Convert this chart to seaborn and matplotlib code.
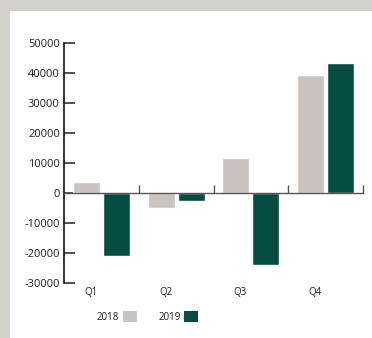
import matplotlib
matplotlib.use("Agg")
import matplotlib.pyplot as plt
from matplotlib.patches import Patch, Rectangle
from matplotlib.transforms import blended_transform_factory
import pandas as pd
import seaborn as sns

quarters = ["Q1", "Q2", "Q3", "Q4"]
years = ["2018", "2019"]
values_2018 = [3500, -5000, 11500, 39200]
values_2019 = [-21000, -2700, -24100, 43200]
y_ticks = [50000, 40000, 30000, 20000, 10000, 0, -10000, -20000, -30000]
y_tick_labels = ["50000", "40000", "30000", "20000", "10000", "0", "-10000", "-20000", "-30000"]

colors = {"2018": "#c9c4bf", "2019": "#054d40"}
text_color = "#222222"

df = pd.DataFrame({
    "quarter": quarters * 2,
    "year": ["2018"] * 4 + ["2019"] * 4,
    "value": values_2018 + values_2019,
})

sns.set_style("white")
plt.rcParams["font.family"] = ["Open Sans", "DejaVu Sans"]
plt.rcParams["axes.unicode_minus"] = False

W, H = 372, 338
fig = plt.figure(figsize=(W / 100, H / 100), dpi=100, facecolor="#d3d1ce")
# white card on the grey backdrop
fig.patches.append(Rectangle((10 / W, 0), 1, 1 - 11 / H, transform=fig.transFigure,
                             facecolor="white", edgecolor="none", zorder=-1))

ax = fig.add_axes([64 / W, (H - 282.7) / H, 299 / W, 240 / H])
ax.set_facecolor("none")
ax.set_zorder(2)

sns.barplot(data=df, x="quarter", y="value", hue="year", hue_order=years,
            palette=colors, width=0.8, gap=0.1, saturation=1, legend=False, ax=ax)

ax.set_xlim(-0.5, 3.5)
ax.set_ylim(-30000, 50000)
ax.set_xlabel("")
ax.set_ylabel("")

for side in ("top", "right"):
    ax.spines[side].set_visible(False)
ax.spines["left"].set_color("#111111")
ax.spines["left"].set_linewidth(1.2)
ax.spines["bottom"].set_position(("data", 0))
ax.spines["bottom"].set_color("#555555")
ax.spines["bottom"].set_linewidth(1.0)

ax.set_yticks(y_ticks)
ax.set_yticklabels(y_tick_labels)
ax.tick_params(axis="y", direction="in", length=8, width=1.1, color="#222222",
               pad=3, labelsize=8, labelcolor=text_color, left=True)

# group boundary ticks on the zero line
ax.set_xticks([0.5, 1.5, 2.5, 3.5])
ax.set_xticklabels([])
ax.tick_params(axis="x", direction="in", length=6, width=1.0, color="#555555", bottom=True)

trans = blended_transform_factory(ax.transData, ax.transAxes)
for i, q in enumerate(quarters):
    ax.text(i - 0.14, -0.042, q, transform=trans, ha="center", va="center",
            fontsize=7, color=text_color)

handles = [Patch(facecolor=colors[y], edgecolor="none") for y in years]
leg = fig.legend(handles, years, loc="center left", bbox_to_anchor=(97 / W, (H - 317) / H),
                 ncol=2, frameon=False, markerfirst=False, fontsize=7, labelcolor=text_color,
                 handlelength=1.45, handleheight=1.35, handletextpad=0.35,
                 columnspacing=2.2, borderpad=0, borderaxespad=0)
leg.set_zorder(3)

fig.savefig("out.png", dpi=100, facecolor=fig.get_facecolor())
